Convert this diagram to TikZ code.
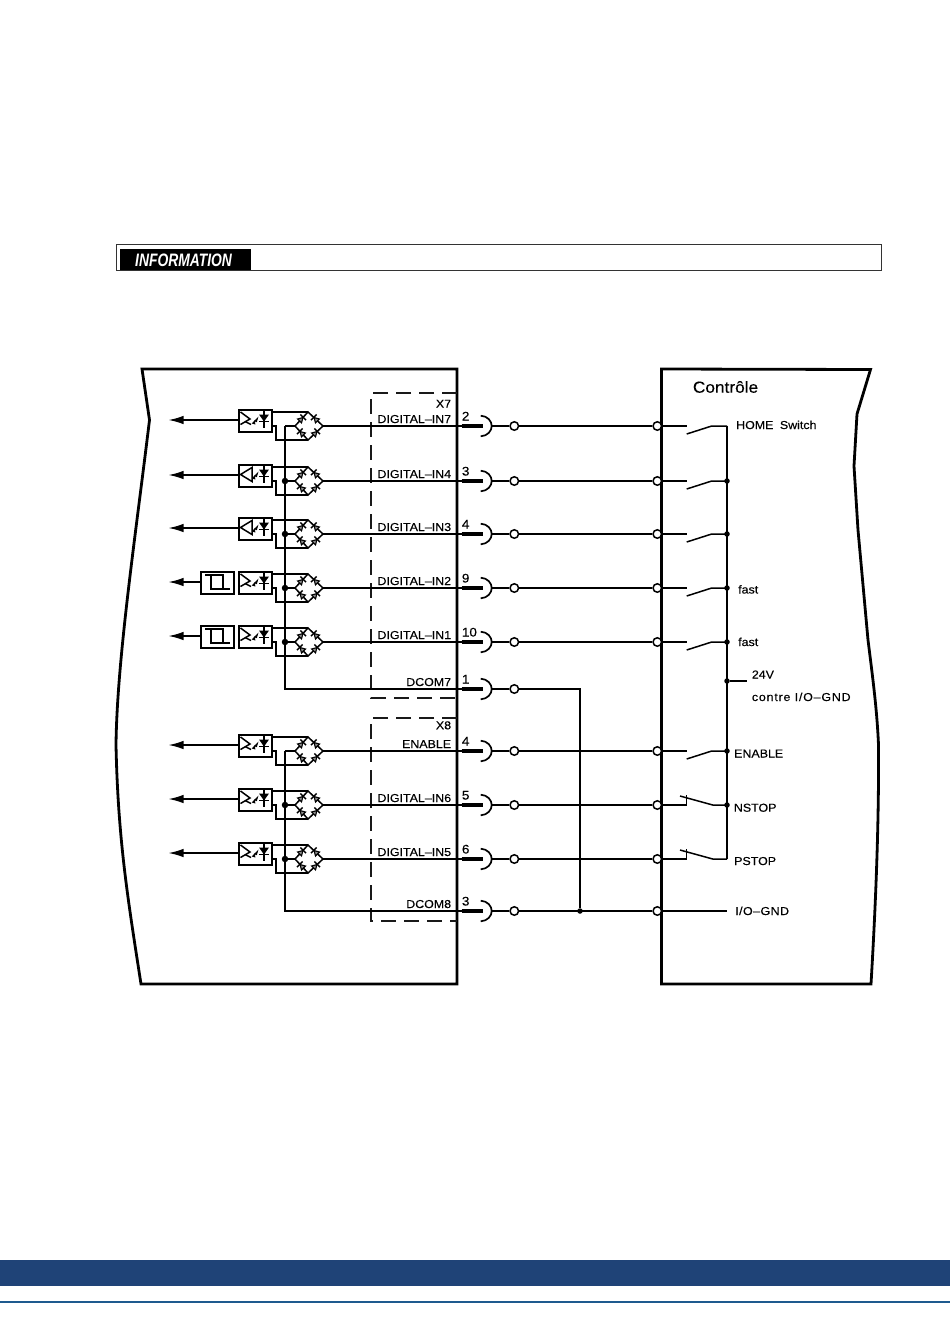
\documentclass[tikz,border=0pt]{standalone}
\usepackage{fontspec}
\setmainfont[FakeStretch=1.08,FakeBold=0.25]{Liberation Sans}
\newfontfamily\infofont[FakeStretch=0.77]{Liberation Sans}
\usetikzlibrary{arrows.meta}
\definecolor{band}{HTML}{1F4377}
\definecolor{bandline}{HTML}{1E5A8E}
\tikzset{
  thinw/.style={line width=1.5pt,black},
  heavy/.style={line width=2.8pt,black,line join=miter},
  frame/.style={draw,line width=1.6pt,black,fill=white,inner sep=0pt,anchor=north west},
  pinring/.style={circle,draw,line width=1.5pt,fill=white,minimum size=8.5pt,inner sep=0pt},
  jdot/.style={circle,fill=black,minimum size=#1,inner sep=0pt},
  jdot/.default=6.5pt,
  lab/.style={inner sep=0pt,font=\fontsize{11.5}{12}\selectfont,black},
  labl/.style={lab,anchor=base west},
  labr/.style={lab,anchor=base east},
  pinno/.style={inner sep=0pt,anchor=base west,font=\fontsize{12.5}{13}\selectfont,black},
  dashbox/.style={line width=1.6pt,black!90,dash pattern=on 15pt off 8pt},
  outarrow/.style={line width=1.5pt,-{Latex[length=15pt,width=8.5pt]}},
  glyph/.style={line width=1.5pt,black}
}
% one bridge diode: #1 position, #2 rotation
\newcommand{\brdiode}[2]{%
  \begin{scope}[shift={#1},rotate=#2]
    \draw[line width=1.1pt,fill=black!45] (-2.8,-2.8) -- (-2.8,2.8) -- (2,0) -- cycle;
    \draw[line width=1.5pt] (2.4,-4) -- (2.4,4);
  \end{scope}}
% opto channel: #1 id, #2 row y, #3 type (T,D,S)
\newcommand{\optobox}[3]{%
  \node[frame,minimum width=33pt,minimum height=22pt] (box#1) at (238,#2-17) {};
  \draw[glyph] (264,#2-15.6) -- (264,#2+1.6);
  \draw[glyph] (259,#2-4.5) -- (269,#2-4.5);
  \fill (259,#2-11.5) -- (269,#2-11.5) -- (264,#2-4.5) -- cycle;
  \fill (254,#2-5) -- (258.5,#2-9.5) -- (256.8,#2-3.8) -- cycle;
  \fill (251.8,#2-2.5) -- (255,#2-6) -- (255.3,#2-1.5) -- cycle;
  \ifx#3D
    \draw[glyph] (240.5,#2-6.5) -- (252,#2-13.5) -- (252,#2+.5) -- cycle;
  \else
    \draw[glyph] (240.5,#2-14) -- (250,#2-7) -- (240.5,#2-1.5);
    \draw[glyph] (245.5,#2-4.3) -- (251,#2-1.5);
  \fi
  \coordinate (btop#1) at (308,#2-14);
  \coordinate (bbot#1) at (308,#2+14);
  \coordinate (bl#1) at (295,#2);
  \coordinate (br#1) at (323,#2);
  \draw[thinw] (btop#1) -- (br#1) -- (bbot#1) -- (bl#1) -- cycle;
  \draw[thinw] (box#1.north east |- btop#1) -- (btop#1);
  \draw[thinw] (box#1.east |- bl#1) -- (276,#2) -- (276,#2+14) -- (bbot#1);
  \brdiode{(301.5,#2-7)}{45}
  \brdiode{(315.5,#2-7)}{135}
  \brdiode{(301.5,#2+7)}{135}
  \brdiode{(315.5,#2+7)}{45}
  \coordinate (bus#1) at (285,#2);
  \draw[thinw] (bus#1) -- (bl#1);
  \coordinate (tip#1) at (168.5,#2-6);
}
% connector from inner net to pin and ring
\newcommand{\pinset}[3]{%
  \node[pinring] (ra#1) at (514.3,#2) {};
  \draw[line width=4.8pt] (461.7,#2) coordinate (pa#1) -- (483.3,#2) coordinate (pb#1);
  \draw[line width=1.7pt] (480.7,#2-10.3) .. controls (487.5,#2-10) and (491.7,#2-5) .. (491.7,#2) coordinate (pc#1)
     .. controls (491.7,#2+5) and (487.5,#2+10) .. (480.7,#2+10.3);
  \draw[thinw] (pc#1) -- (ra#1);
  \node[pinno] (pn#1) at (461.7,#2-5.5) {#3};
}
\newcommand{\ringb}[2]{\node[pinring] (rb#1) at (657.3,#2) {};}
\newcommand{\sigline}[2]{%
  \draw[thinw] (br#1) -- (pa#1);
  \node[labr] (tx#1) at (451.3,\csname y#1\endcsname-3) {#2};
}
\newcommand{\noswitch}[2]{%
  \ringb{#1}{#2}
  \coordinate (sa#1) at (686.7,#2);
  \coordinate (sb#1) at (711.7,#2);
  \coordinate (sc#1) at (727,#2);
  \draw[thinw] (ra#1) -- (rb#1) -- (sa#1);
  \draw[thinw] (686.7,#2+8) -- (sb#1) -- (sc#1);
}
\newcommand{\ncswitch}[2]{%
  \ringb{#1}{#2}
  \coordinate (sa#1) at (686.7,#2);
  \coordinate (sc#1) at (727,#2);
  \draw[thinw] (ra#1) -- (rb#1) -- (sa#1) -- (686.7,#2-10);
  \draw[thinw] (680,#2-9) -- (712.7,#2) -- (sc#1);
}
\def\yA{426}\def\yB{481}\def\yC{534}\def\yD{588}\def\yE{642}
\def\yF{751}\def\yG{805}\def\yH{859}
\begin{document}
\begin{tikzpicture}[x=1pt,y=-1pt]
\useasboundingbox (0,0) rectangle (950,1344);
\fill[white] (0,0) rectangle (950,1344);

% information banner
\node[draw=black!80,line width=1pt,minimum width=764.5pt,minimum height=25.5pt,anchor=north west,inner sep=0pt] (infoframe) at (116,244.3) {};
\node[fill=black,minimum width=131pt,minimum height=21pt,anchor=north west,inner sep=0pt] (infolabel) at (120,249) {};
\node[inner sep=0pt,text=white,anchor=base west,font=\infofont\fontsize{18}{18}\selectfont\bfseries\itshape] (infotext) at (135,266.3) {INFORMATION};

% outlines
\draw[heavy] (457,984) -- (141,984) .. controls (128,900) and (118,840) .. (116,745)
  .. controls (117,660) and (135,540) .. (149.5,420) -- (142,369) -- (457,369) -- cycle;
\draw[heavy] (661.5,369) -- (870.5,369.5) -- (857,414) -- (854,466) -- (858,530) -- (868,640)
  .. controls (873,680) and (877,710) .. (878.5,745) .. controls (879,820) and (876,900) .. (871,984) -- (661.5,984) -- cycle;

% dashed blocks
\draw[dashbox] (457,393) -- (371,393) -- (371,698) -- (457,698);
\draw[dashbox] (457,718) -- (371,718) -- (371,921) -- (457,921);

% inner rows
\optobox{A}{\yA}{T}
\optobox{B}{\yB}{D}
\optobox{C}{\yC}{D}
\optobox{D}{\yD}{S}
\optobox{E}{\yE}{S}
\optobox{F}{\yF}{T}
\optobox{G}{\yG}{T}
\optobox{H}{\yH}{T}

% output arrows
\foreach \k in {A,B,C,F,G,H}{
  \draw[outarrow] (boxA.west |- tip\k) -- (tip\k);
}
\foreach \k in {D,E}{
  \node[frame,minimum width=33pt,minimum height=22pt] (hy\k) at (200,{\csname y\k\endcsname-17}) {};
  \draw[glyph] (205,{\csname y\k\endcsname-13}) -- (223,{\csname y\k\endcsname-13}) -- (223,{\csname y\k\endcsname+1});
  \draw[glyph] (211,{\csname y\k\endcsname-13}) -- (211,{\csname y\k\endcsname+1}) -- (230,{\csname y\k\endcsname+1});
  \draw[outarrow] (hy\k.west |- tip\k) -- (tip\k);
}

% pins
\pinset{A}{\yA}{2}
\pinset{B}{\yB}{3}
\pinset{C}{\yC}{4}
\pinset{D}{\yD}{9}
\pinset{E}{\yE}{10}
\pinset{J}{689}{1}
\pinset{F}{\yF}{4}
\pinset{G}{\yG}{5}
\pinset{H}{\yH}{6}
\pinset{K}{911}{3}

\sigline{A}{DIGITAL–IN7}
\sigline{B}{DIGITAL–IN4}
\sigline{C}{DIGITAL–IN3}
\sigline{D}{DIGITAL–IN2}
\sigline{E}{DIGITAL–IN1}
\sigline{F}{ENABLE}
\sigline{G}{DIGITAL–IN6}
\sigline{H}{DIGITAL–IN5}
\node[labr] (txX7) at (451.3,407.7) {X7};
\node[labr] (txX8) at (451.3,729.3) {X8};
\node[labr] (txJ) at (451.3,686) {DCOM7};
\node[labr] (txK) at (451.3,908) {DCOM8};

% common buses
\coordinate (comJ) at (285,689);
\coordinate (comK) at (285,911);
\draw[thinw] (busA) -- (comJ) -- (pbJ);
\draw[thinw] (busF) -- (comK) -- (pbK);
\foreach \k in {B,C,D,E,G,H}{ \node[jdot] (dot\k) at (bus\k) {}; }

% right hand nets
\noswitch{A}{\yA}
\noswitch{B}{\yB}
\noswitch{C}{\yC}
\noswitch{D}{\yD}
\noswitch{E}{\yE}
\noswitch{F}{\yF}
\ncswitch{G}{\yG}
\ncswitch{H}{\yH}
\draw[thinw] (scA) -- (scH);
\foreach \k in {B,C,D,E,F,G}{ \node[jdot=5.5pt] (rd\k) at (sc\k) {}; }
\node[jdot=5.5pt] (rd24) at (727,681) {};
\coordinate (v24) at (747.3,681);
\draw[thinw] (rd24) -- (v24);

% ground net
\coordinate (gnd) at (727,911);
\coordinate (jcorner) at (580,689);
\node[jdot=5.5pt] (jgnd) at (580,911) {};
\draw[thinw] (raJ) -- (jcorner) -- (jgnd);
\ringb{K}{911}
\draw[thinw] (raK) -- (rbK) -- (gnd);

% texts on right
\node[inner sep=0pt,anchor=base west,font=\fontsize{16}{16}\selectfont,black] (ctrl) at (692.7,392.7) {Contrôle};
\node[labl] (tHome) at (736,429) {HOME\hspace{3pt} Switch};
\node[labl] (tfast1) at (738,593.5) {fast};
\node[labl] (tfast2) at (738,646) {fast};
\node[labl] (t24) at (751.7,678.5) {24V};
\node[labl,font=\fontsize{11.5}{12}\selectfont\addfontfeature{LetterSpace=7}] (tcontre) at (751.7,701) {contre I/O–GND};
\node[labl] (tEn) at (734,757.5) {ENABLE};
\node[labl] (tNs) at (733.7,811.7) {NSTOP};
\node[labl] (tPs) at (734,865) {PSTOP};
\node[labl,font=\fontsize{11.5}{12}\selectfont\addfontfeature{LetterSpace=4}] (tGnd) at (735,915) {I/O–GND};

% page footer
\fill[band] (0,1260) rectangle (950,1286);
\draw[bandline,line width=2.2pt] (0,1301.8) -- (950,1301.8);
\end{tikzpicture}
\end{document}
